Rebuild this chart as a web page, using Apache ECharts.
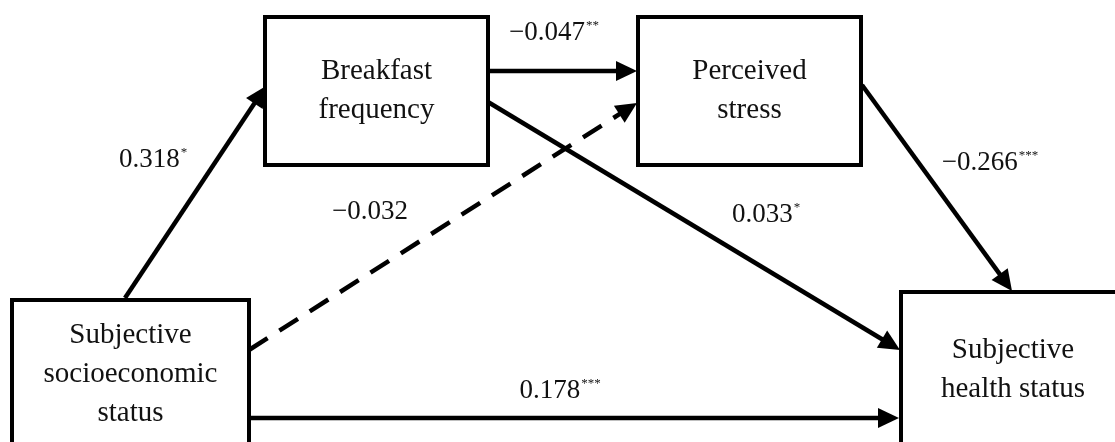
<!DOCTYPE html>
<html>
<head>
<meta charset="utf-8">
<script src="https://cdn.jsdelivr.net/npm/echarts@6/dist/echarts.min.js"></script>
<style>
  html, body { margin: 0; padding: 0; background: #ffffff; }
  #chart { width: 1115px; height: 442px; }
</style>
</head>
<body>
<div id="chart"></div>
<script>
// ---- Data ----
const nodeNames = [
  'Subjective\nsocioeconomic\nstatus',
  'Breakfast\nfrequency',
  'Perceived\nstress',
  'Subjective\nhealth status'
];
const pathCoefficients = ['0.318', '\u22120.047', '\u22120.032', '0.033', '\u22120.266', '0.178'];
const pathStars = ['*', '**', '', '*', '***', '***'];
const pathSignificant = [true, true, false, true, true, true];

// ---- Layout (diagram coordinates, in chart units) ----
const nodeBoxes = [
  [12, 300, 249, 448],
  [265, 17, 488, 165],
  [638, 17, 861, 165],
  [901, 292, 1125, 448]
];
const pathEnds = [
  [125, 298, 266, 86],
  [488, 71, 637, 71],
  [249, 350, 637, 103],
  [488, 102, 900, 350],
  [862, 85, 1012, 291],
  [249, 418, 899, 418]
];
const labelAnchors = [
  [153, 160], [554, 33], [370, 212], [766, 215], [990, 163], [560, 391]
];

const FONT = '"Liberation Serif", "Times New Roman", serif';
const INK = '#111111';

const boxData = nodeBoxes.map((b, i) => ({ value: b, name: nodeNames[i] }));
const arrowData = pathEnds.map((p, i) => ({ value: p.concat([pathSignificant[i] ? 1 : 0]) }));
const labelData = labelAnchors.map((p, i) => ({
  value: p,
  coef: pathCoefficients[i],
  stars: pathStars[i]
}));

const chart = echarts.init(document.getElementById('chart'), null, { renderer: 'canvas' });
chart.setOption({
  animation: false,
  backgroundColor: '#ffffff',
  grid: { left: 0, right: 0, top: 0, bottom: 0 },
  xAxis: { type: 'value', min: 0, max: 1115, show: false },
  yAxis: { type: 'value', min: 0, max: 442, inverse: true, show: false },
  series: [
    {
      type: 'custom',
      z: 1,
      clip: false,
      data: boxData,
      renderItem: function (params, api) {
        const p1 = api.coord([api.value(0), api.value(1)]);
        const p2 = api.coord([api.value(2), api.value(3)]);
        const name = nodeNames[params.dataIndex];
        return {
          type: 'group',
          children: [
            {
              type: 'rect',
              shape: { x: p1[0], y: p1[1], width: p2[0] - p1[0], height: p2[1] - p1[1] },
              style: { fill: '#ffffff', stroke: '#000000', lineWidth: 4 }
            },
            {
              type: 'text',
              style: {
                text: name,
                x: (p1[0] + p2[0]) / 2,
                y: (p1[1] + p2[1]) / 2,
                align: 'center',
                verticalAlign: 'middle',
                fontFamily: FONT,
                fontSize: 29,
                lineHeight: 39,
                fill: INK
              }
            }
          ]
        };
      }
    },
    {
      type: 'custom',
      z: 2,
      clip: false,
      data: arrowData,
      renderItem: function (params, api) {
        const a = api.coord([api.value(0), api.value(1)]);
        const b = api.coord([api.value(2), api.value(3)]);
        const solid = api.value(4) === 1;
        const dx = b[0] - a[0], dy = b[1] - a[1];
        const len = Math.sqrt(dx * dx + dy * dy);
        const ux = dx / len, uy = dy / len;
        const headLen = 21, headHalf = 10;
        const base = [b[0] - ux * headLen, b[1] - uy * headLen];
        const lineEnd = [b[0] - ux * (headLen - 2), b[1] - uy * (headLen - 2)];
        return {
          type: 'group',
          children: [
            {
              type: 'line',
              shape: { x1: a[0], y1: a[1], x2: lineEnd[0], y2: lineEnd[1] },
              style: { stroke: '#000000', lineWidth: 4.5, lineDash: solid ? null : [22, 14] }
            },
            {
              type: 'polygon',
              shape: {
                points: [
                  [b[0], b[1]],
                  [base[0] - uy * headHalf, base[1] + ux * headHalf],
                  [base[0] + uy * headHalf, base[1] - ux * headHalf]
                ]
              },
              style: { fill: '#000000' }
            }
          ]
        };
      }
    },
    {
      type: 'custom',
      z: 3,
      clip: false,
      data: labelData,
      renderItem: function (params, api) {
        const p = api.coord([api.value(0), api.value(1)]);
        const item = labelData[params.dataIndex];
        const txt = '{n|' + item.coef + '}' + (item.stars ? '{s|' + item.stars + '}' : '');
        return {
          type: 'text',
          style: {
            text: txt,
            x: p[0],
            y: p[1],
            align: 'center',
            verticalAlign: 'middle',
            rich: {
              n: { fontFamily: FONT, fontSize: 27, fill: INK, color: INK },
              s: { fontFamily: FONT, fontSize: 13, fill: INK, color: INK, padding: [0, 0, 14, 1] }
            }
          }
        };
      }
    }
  ]
});
</script>
</body>
</html>
